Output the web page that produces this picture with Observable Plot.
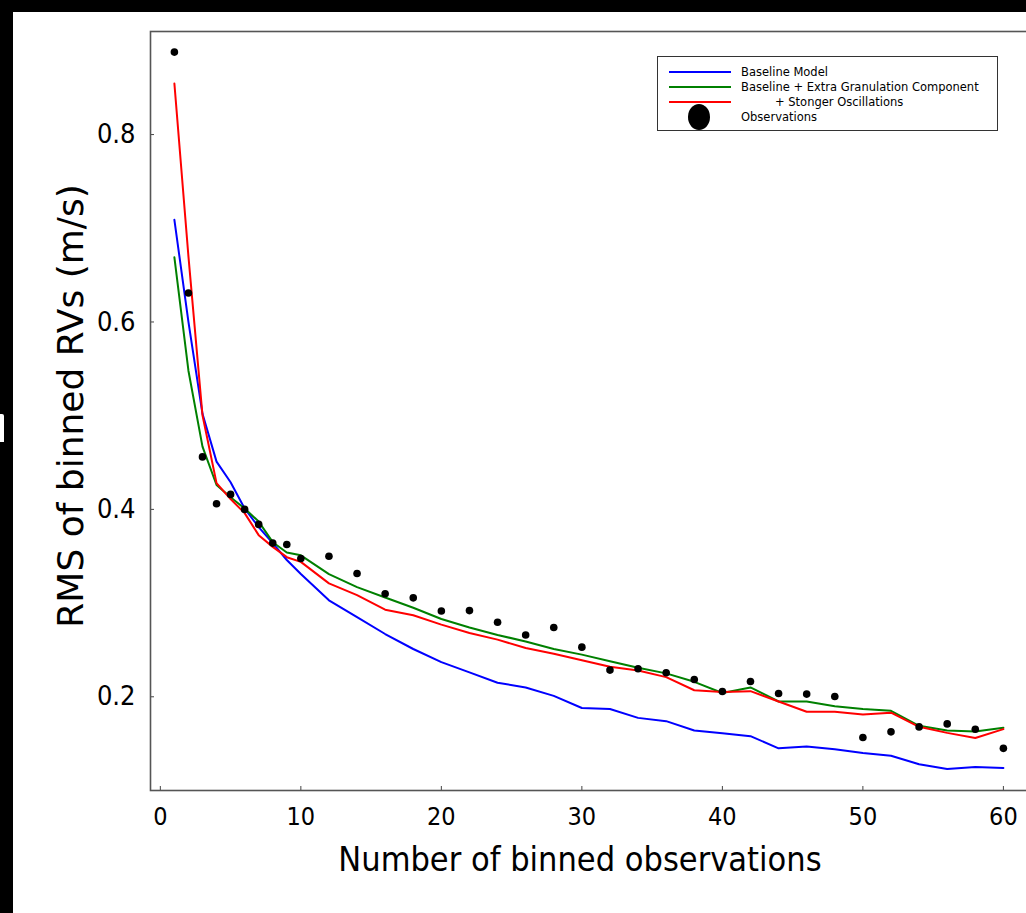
<!DOCTYPE html>
<html>
<head>
<meta charset="utf-8">
<script src="https://cdn.jsdelivr.net/npm/d3@7"></script>
<script src="https://cdn.jsdelivr.net/npm/@observablehq/plot@0.6"></script>
<style>
  html, body { margin: 0; padding: 0; background: #fff; overflow: hidden; }
  #wrap { position: relative; width: 1026px; height: 913px; overflow: hidden; }
  #chart { position: absolute; left: 0; top: 0; width: 1040px; }
  #chart svg { max-width: none !important; }
  .band { position: absolute; background: #000; z-index: 5; }
  #legend { position: absolute; left: 657px; top: 56px; width: 339px; height: 73px;
            border: 1.5px solid #333; background: #fff; z-index: 4;
            font-family: "DejaVu Sans", sans-serif; font-size: 11.5px; color: #000; }
  #legend .t { position: absolute; white-space: nowrap; line-height: 1; }
  #legend svg { position: absolute; left: 0; top: 0; }
</style>
</head>
<body>
<div id="wrap">
  <div class="band" style="left:0;top:0;width:1026px;height:12px"></div>
  <div class="band" style="left:0;top:0;width:13px;height:913px"></div>
  <div style="position:absolute;left:0;top:414px;width:4px;height:28px;background:#fff;z-index:6;border-radius:0 2px 0 0"></div>
  <div id="chart"></div>
  <div id="legend"></div>
</div>
<script>
// ---- data ----
const binSizes = [1,2,3,4,5,6,7,8,9,10,12,14,16,18,20,22,24,26,28,30,32,34,36,38,40,42,44,46,48,50,52,54,56,58,60];
const baselineModel = [0.709,0.600,0.502,0.451,0.429,0.401,0.381,0.364,0.346,0.331,0.303,0.285,0.267,0.251,0.237,0.226,0.215,0.210,0.201,0.188,0.187,0.1775,0.174,0.164,0.161,0.158,0.145,0.147,0.144,0.140,0.137,0.128,0.123,0.125,0.124];
const granulationModel = [0.669,0.548,0.467,0.426,0.413,0.401,0.387,0.365,0.354,0.351,0.331,0.317,0.306,0.295,0.283,0.274,0.266,0.259,0.251,0.245,0.238,0.231,0.225,0.216,0.204,0.210,0.195,0.195,0.190,0.187,0.185,0.169,0.164,0.163,0.167];
const oscillationModel = [0.8545,0.670,0.5005,0.428,0.411,0.396,0.3725,0.360,0.349,0.344,0.321,0.3085,0.293,0.287,0.277,0.268,0.261,0.252,0.246,0.239,0.232,0.228,0.221,0.207,0.205,0.206,0.195,0.184,0.184,0.181,0.183,0.168,0.1615,0.156,0.1655];
const observations = [0.888,0.631,0.456,0.406,0.416,0.400,0.384,0.364,0.3625,0.3476,0.350,0.3316,0.310,0.3056,0.2916,0.292,0.2795,0.266,0.274,0.253,0.2285,0.230,0.2257,0.2185,0.2057,0.2164,0.2035,0.2029,0.2003,0.1565,0.1626,0.1679,0.1711,0.1654,0.145];
const xTicks = [0,10,20,30,40,50,60];
const yTicks = [0.2,0.4,0.6,0.8];
const xLabel = "Number of binned observations";
const yLabel = "RMS of binned RVs (m/s)";
const legendLabels = ["Baseline Model","Baseline + Extra Granulation Component","+ Stonger Oscillations","Observations"];
const seriesColors = ["#0000ff","#008000","#ff0000","#000000"];

const table = (ys) => binSizes.map((x, i) => ({x, y: ys[i]}));
const condensed = "'DejaVu Sans Condensed', 'DejaVu Sans', sans-serif";

const plot = Plot.plot({
  width: 1040,
  height: 913,
  marginLeft: 150,
  marginRight: 9,
  marginTop: 31,
  marginBottom: 123,
  style: {background: "transparent", color: "#000", overflow: "visible", maxWidth: "none"},
  x: {domain: [-0.7, 62]},
  y: {domain: [0.1, 0.91]},
  marks: [
    Plot.axisX({ticks: xTicks, tickSize: -4, tickPadding: 21, tickFormat: d => String(d),
                fontSize: 25, fontFamily: condensed, label: null, stroke: "#444"}),
    Plot.axisY({ticks: yTicks, tickSize: -4, tickPadding: 19, tickFormat: d => d.toFixed(1),
                fontSize: 27, fontFamily: condensed, label: null, stroke: "#444"}),
    Plot.line(table(baselineModel), {x: "x", y: "y", stroke: seriesColors[0], strokeWidth: 2}),
    Plot.line(table(granulationModel), {x: "x", y: "y", stroke: seriesColors[1], strokeWidth: 2}),
    Plot.line(table(oscillationModel), {x: "x", y: "y", stroke: seriesColors[2], strokeWidth: 2}),
    Plot.dot(table(observations), {x: "x", y: "y", r: 3.8, fill: seriesColors[3], stroke: "none"}),
    Plot.frame({stroke: "#555", strokeWidth: 1.6}),
    Plot.text([xLabel], {text: d => d, frameAnchor: "bottom", lineAnchor: "bottom", dy: 80, dx: -11,
                         fontSize: 34, fontFamily: condensed, fill: "#000"}),
    Plot.text([yLabel], {text: d => d, frameAnchor: "left", textAnchor: "middle", rotate: -90, dx: -79, dy: -5,
                         fontSize: 36, fontFamily: "'DejaVu Sans', sans-serif", fill: "#000"})
  ]
});
document.getElementById("chart").appendChild(plot);

// ---- legend (inside the axes, top right) ----
const leg = document.getElementById("legend");
const rowsY = [15, 30, 45, 60];
const ns = "http://www.w3.org/2000/svg";
const sw = document.createElementNS(ns, "svg");
sw.setAttribute("width", 339); sw.setAttribute("height", 73);
rowsY.forEach((ry, i) => {
  if (i < 3) {
    const l = document.createElementNS(ns, "line");
    l.setAttribute("x1", 11); l.setAttribute("x2", 73);
    l.setAttribute("y1", ry); l.setAttribute("y2", ry);
    l.setAttribute("stroke", seriesColors[i]); l.setAttribute("stroke-width", 2.2);
    sw.appendChild(l);
  } else {
    const e = document.createElementNS(ns, "ellipse");
    e.setAttribute("cx", 41); e.setAttribute("cy", ry);
    e.setAttribute("rx", 11); e.setAttribute("ry", 13);
    e.setAttribute("fill", seriesColors[i]);
    sw.appendChild(e);
  }
});
leg.appendChild(sw);
legendLabels.forEach((txt, i) => {
  const d = document.createElement("div");
  d.className = "t";
  d.textContent = txt;
  d.style.left = (i === 2 ? 117 : 83) + "px";
  d.style.top = (rowsY[i] - 5) + "px";
  leg.appendChild(d);
});
</script>
</body>
</html>
